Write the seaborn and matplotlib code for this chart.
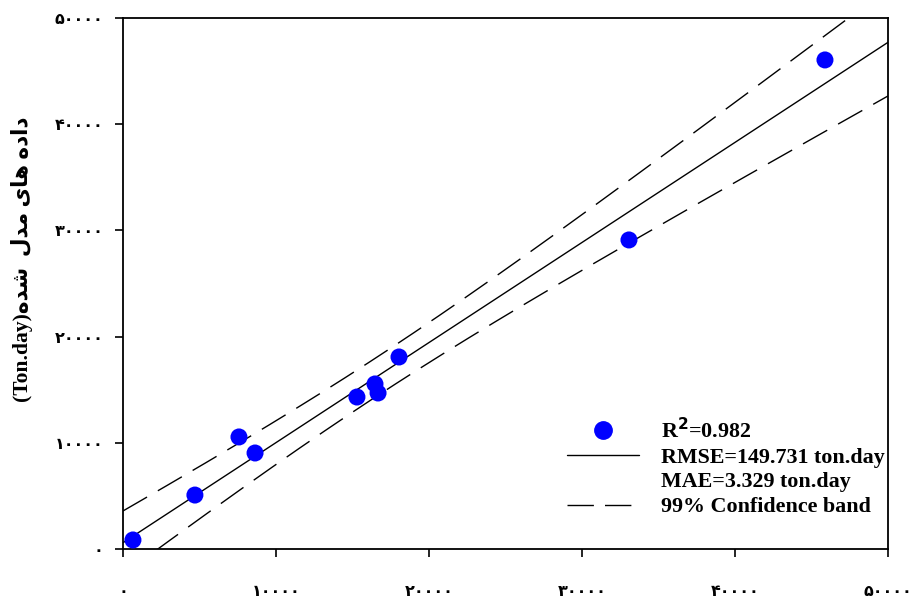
import numpy as np
import pandas as pd
import matplotlib
matplotlib.use("Agg")
import matplotlib.pyplot as plt
import seaborn as sns
from matplotlib.lines import Line2D

# Data
observed = [650, 4700, 7580, 8630, 15290, 16470, 16670, 18040, 33070, 45880]
modeled = [850, 5080, 10550, 9040, 14310, 15540, 14690, 18080, 29100, 46050]
tick_values = [0, 10000, 20000, 30000, 40000, 50000]
tick_labels = ["۰", "۱۰۰۰۰", "۲۰۰۰۰", "۳۰۰۰۰", "۴۰۰۰۰", "۵۰۰۰۰"]
legend_labels = ["R$^{\\mathbf{2}}$=0.982", "RMSE=149.731 ton.day", "MAE=3.329 ton.day", "99% Confidence band"]

sns.set_theme(style="white")
plt.rcParams['font.family'] = ['Liberation Serif', 'DejaVu Sans']
plt.rcParams['font.weight'] = 'bold'
plt.rcParams['mathtext.default'] = 'bf'
for k in ['text.color', 'axes.labelcolor', 'xtick.color', 'ytick.color', 'axes.edgecolor']:
    plt.rcParams[k] = 'black'

fig = plt.figure(figsize=(9.12, 6.01), dpi=100)
ax = fig.add_axes([123/912, 1-549/601, (888-123)/912, (549-18)/601])

df = pd.DataFrame({"obs": observed, "mod": modeled})

# regression + 99% confidence band for the mean
x = np.array(observed, float); y = np.array(modeled, float)
n = len(x)
b, a = np.polyfit(x, y, 1)
resid = y - (a + b*x)
s = np.sqrt(np.sum(resid**2)/(n-2))
t = 3.355  # t(0.995, 8)
xs = np.linspace(0, 50000, 400)
fit = a + b*xs
half = t*s*np.sqrt(1/n + (xs - x.mean())**2/np.sum((x - x.mean())**2))

dash = (0, (20, 9))
ax.plot(xs, fit, color='black', lw=1.0)
ax.plot(xs, fit+half, color='black', lw=1.0, linestyle=dash)
ax.plot(xs, fit-half, color='black', lw=1.0, linestyle=dash)

sns.scatterplot(data=df, x="obs", y="mod", ax=ax, color='#0000FF', s=150,
                edgecolor='none', zorder=5, legend=False)

ax.set_xlim(0, 50000)
ax.set_ylim(0, 50000)
ax.set_xticks(tick_values)
ax.set_yticks(tick_values)
ax.set_xticklabels(tick_labels, fontsize=11.5, fontweight='bold', family=['DejaVu Sans'])
ax.set_yticklabels(tick_labels, fontsize=11.5, fontweight='bold', family=['DejaVu Sans'])
ax.tick_params(axis='both', direction='out', length=6, width=1.2, color='black',
               bottom=True, left=True, top=False, right=False)
ax.tick_params(axis='x', pad=19)
ax.tick_params(axis='y', pad=8)
for sp in ax.spines.values():
    sp.set_color('black'); sp.set_linewidth(1.3); sp.set_visible(True)
ax.set_xlabel("")

# Persian y-label in visual order with presentation forms
word_shode = "\uFEE9\uFEAA\uFEB7"
word_model = "\uFEDD\uFEAA\uFEE3"
word_hay = "\uFEEF\uFE8E\uFEEB"
word_dade = "\uFEE9\uFEA9\uFE8D\uFEA9"
ylabel = "(Ton.day)" + word_shode + "  " + word_model + " " + word_hay + " " + word_dade
ax.set_ylabel(ylabel, fontsize=15.5, fontweight='bold',
              family=['Liberation Serif', 'DejaVu Sans'])
ax.yaxis.set_label_coords(-0.117, 0.545)

handles = [
    Line2D([], [], marker='o', color='#0000FF', linestyle='none', markersize=12.5),
    Line2D([], [], color='black', lw=1.0),
    Line2D([], [], color='none'),
    Line2D([], [], color='black', lw=1.0, linestyle=(0, (19, 8))),
]
leg = ax.legend(handles, legend_labels, loc='lower right', frameon=False,
                bbox_to_anchor=(1.013, 0.035), handlelength=3.3, handletextpad=1.0,
                labelspacing=0.2, borderaxespad=0.2,
                prop={'family': 'Liberation Serif', 'weight': 'bold', 'size': 15.8})
for txt in leg.get_texts():
    txt.set_color('black')

fig.savefig("out.png", dpi=100)
